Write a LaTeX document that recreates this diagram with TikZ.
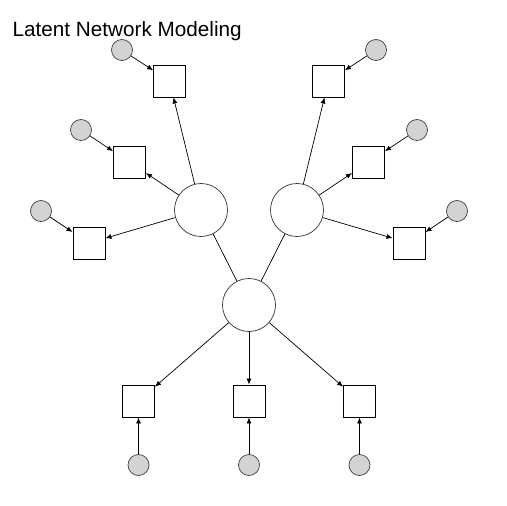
\documentclass[tikz,border=0pt]{standalone}
\usepackage{fontspec}
\setmainfont{Liberation Sans}
\usetikzlibrary{arrows.meta}
\definecolor{latgray}{RGB}{211,211,211}
\begin{document}
\begin{tikzpicture}[x=1pt,y=-1pt,
  latent/.style={circle,draw=black!80,line width=0.7pt,minimum size=53pt,inner sep=0pt,fill=white},
  errc/.style={circle,draw=black!75,line width=0.7pt,fill=latgray,minimum size=21pt,inner sep=0pt},
  obs/.style={rectangle,draw=black,line width=0.9pt,minimum size=32pt,inner sep=0pt,fill=white},
  arr/.style={line width=0.7pt,-{Latex[length=6pt,width=5pt]}},
  lnk/.style={line width=0.7pt}]
\useasboundingbox (0,0) rectangle (507,506);
\node[anchor=base west,font=\fontsize{20.7}{24}\selectfont,inner sep=0pt] (title) at (12.5,36.5) {Latent Network Modeling};
% latent nodes
\node[latent] (C) at (249,305) {};
\node[latent] (L) at (201,210) {};
\node[latent] (R) at (297,210) {};
% observed (left)
\node[obs] (l1) at (169.5,81) {};
\node[obs] (l2) at (129.5,162) {};
\node[obs] (l3) at (89,243) {};
% observed (right)
\node[obs] (r1) at (328.5,81) {};
\node[obs] (r2) at (368.5,162) {};
\node[obs] (r3) at (409,243) {};
% observed (bottom)
\node[obs] (b1) at (138.5,401) {};
\node[obs] (b2) at (249,401) {};
\node[obs] (b3) at (359.5,401) {};
% error terms
\node[errc] (el1) at (122,50) {};
\node[errc] (el2) at (81,130) {};
\node[errc] (el3) at (41,211) {};
\node[errc] (er1) at (376,50) {};
\node[errc] (er2) at (417,130) {};
\node[errc] (er3) at (457,211) {};
\node[errc] (eb1) at (138.5,465) {};
\node[errc] (eb2) at (249,465) {};
\node[errc] (eb3) at (359.5,465) {};
% links between latents
\draw[lnk] (C) -- (L);
\draw[lnk] (C) -- (R);
% loadings
\draw[arr] (L) -- (l1);
\draw[arr] (L) -- (l2);
\draw[arr] (L) -- (l3);
\draw[arr] (R) -- (r1);
\draw[arr] (R) -- (r2);
\draw[arr] (R) -- (r3);
\draw[arr] (C) -- (b1);
\draw[arr] (C) -- (b2);
\draw[arr] (C) -- (b3);
% errors
\draw[arr] (el1) -- (l1);
\draw[arr] (el2) -- (l2);
\draw[arr] (el3) -- (l3);
\draw[arr] (er1) -- (r1);
\draw[arr] (er2) -- (r2);
\draw[arr] (er3) -- (r3);
\draw[arr] (eb1) -- (b1);
\draw[arr] (eb2) -- (b2);
\draw[arr] (eb3) -- (b3);
\end{tikzpicture}
\end{document}
